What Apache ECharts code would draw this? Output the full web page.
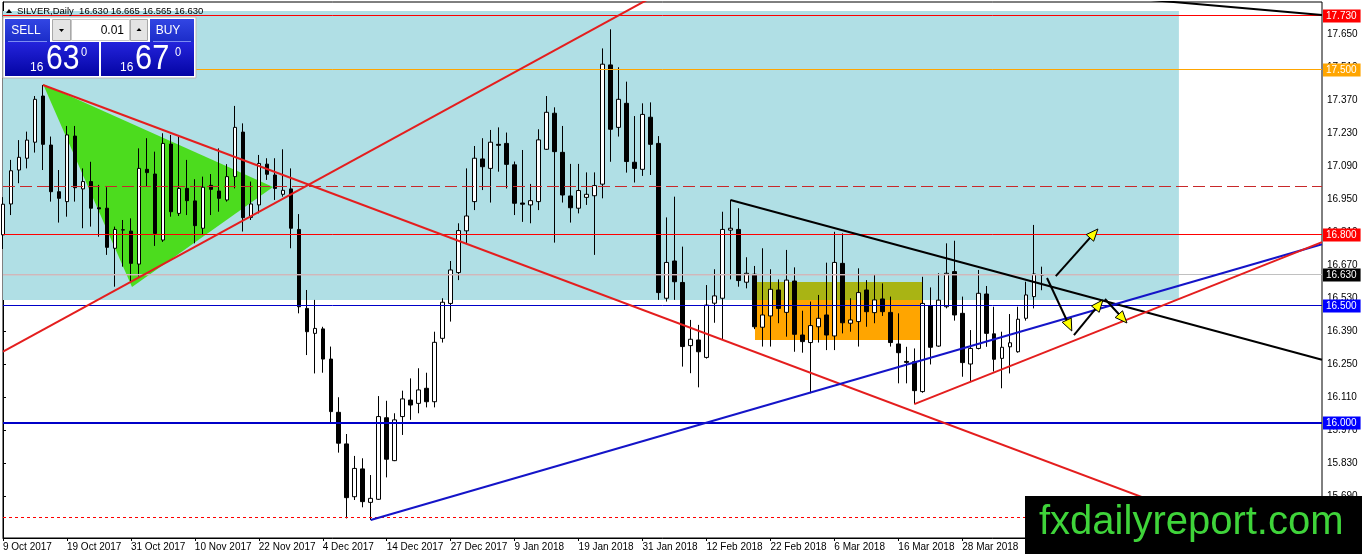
<!DOCTYPE html>
<html>
<head>
<meta charset="utf-8">
<script src="https://cdn.jsdelivr.net/npm/echarts@6/dist/echarts.min.js"></script>
<style>html,body{margin:0;padding:0;background:#fff;}#c{width:1362px;height:554px;}</style>
</head>
<body>
<div id="c"></div>
<script>
// ---------------- DATA ----------------
const categories = [
'9 Oct 2017','10 Oct 2017','11 Oct 2017','12 Oct 2017','13 Oct 2017','16 Oct 2017','17 Oct 2017','18 Oct 2017','19 Oct 2017','20 Oct 2017','23 Oct 2017','24 Oct 2017','25 Oct 2017','26 Oct 2017','27 Oct 2017','30 Oct 2017','31 Oct 2017',
'1 Nov 2017','2 Nov 2017','3 Nov 2017','6 Nov 2017','7 Nov 2017','8 Nov 2017','9 Nov 2017','10 Nov 2017','13 Nov 2017','14 Nov 2017','15 Nov 2017','16 Nov 2017','17 Nov 2017','20 Nov 2017','21 Nov 2017','22 Nov 2017','23 Nov 2017','24 Nov 2017','27 Nov 2017','28 Nov 2017','29 Nov 2017','30 Nov 2017',
'1 Dec 2017','4 Dec 2017','5 Dec 2017','6 Dec 2017','7 Dec 2017','8 Dec 2017','11 Dec 2017','12 Dec 2017','13 Dec 2017','14 Dec 2017','15 Dec 2017','18 Dec 2017','19 Dec 2017','20 Dec 2017','21 Dec 2017','22 Dec 2017','26 Dec 2017','27 Dec 2017','28 Dec 2017','29 Dec 2017',
'2 Jan 2018','3 Jan 2018','4 Jan 2018','5 Jan 2018','8 Jan 2018','9 Jan 2018','10 Jan 2018','11 Jan 2018','12 Jan 2018','15 Jan 2018','16 Jan 2018','17 Jan 2018','18 Jan 2018','19 Jan 2018','22 Jan 2018','23 Jan 2018','24 Jan 2018','25 Jan 2018','26 Jan 2018','29 Jan 2018','30 Jan 2018','31 Jan 2018',
'1 Feb 2018','2 Feb 2018','5 Feb 2018','6 Feb 2018','7 Feb 2018','8 Feb 2018','9 Feb 2018','12 Feb 2018','13 Feb 2018','14 Feb 2018','15 Feb 2018','16 Feb 2018','19 Feb 2018','20 Feb 2018','21 Feb 2018','22 Feb 2018','23 Feb 2018','26 Feb 2018','27 Feb 2018','28 Feb 2018',
'1 Mar 2018','2 Mar 2018','5 Mar 2018','6 Mar 2018','7 Mar 2018','8 Mar 2018','9 Mar 2018','12 Mar 2018','13 Mar 2018','14 Mar 2018','15 Mar 2018','16 Mar 2018','19 Mar 2018','20 Mar 2018','21 Mar 2018','22 Mar 2018','23 Mar 2018','26 Mar 2018','27 Mar 2018','28 Mar 2018','29 Mar 2018','30 Mar 2018',
'2 Apr 2018','3 Apr 2018','4 Apr 2018','5 Apr 2018','6 Apr 2018','9 Apr 2018','10 Apr 2018','11 Apr 2018'
];

const openP = [
16.800,16.931,17.075,17.125,17.193,17.389,17.181,16.983,16.941,17.219,
16.995,17.026,16.915,16.913,16.743,16.820,16.816,16.676,17.078,17.058,
16.778,17.185,16.891,16.997,16.944,16.828,17.010,16.986,16.948,17.047,
17.236,16.874,16.927,17.100,17.054,16.972,16.995,16.823,16.488,16.382,
16.401,16.273,16.047,15.913,15.689,15.807,15.665,15.678,16.024,15.842,
16.029,16.099,16.085,16.149,16.092,16.361,16.509,16.640,16.817,16.941,
17.122,17.082,17.184,17.188,17.097,16.935,16.927,16.941,17.163,17.316,
17.150,16.965,16.913,16.959,16.966,17.015,17.521,17.256,17.358,17.108,
17.078,17.299,17.188,16.531,16.689,16.598,16.330,16.354,16.280,16.510,
16.531,16.820,16.823,16.599,16.633,16.408,16.456,16.566,16.471,16.604,
16.375,16.343,16.410,16.460,16.371,16.679,16.425,16.432,16.566,16.470,
16.528,16.471,16.337,16.263,16.262,16.135,16.498,16.328,16.495,16.644,
16.467,16.252,16.318,16.549,16.380,16.276,16.325,16.304,16.446,16.538,
16.630
];
const highP = [
16.960,17.118,17.202,17.238,17.389,17.436,17.217,17.075,17.262,17.262,
17.082,17.110,17.012,17.002,16.835,16.863,16.870,17.167,17.210,17.153,
17.231,17.224,17.217,17.118,17.036,17.047,17.058,17.167,17.100,17.347,
17.273,17.026,17.139,17.125,17.125,17.163,17.082,16.888,16.566,16.524,
16.410,16.326,16.111,15.955,15.862,15.852,15.781,16.116,16.096,16.043,
16.139,16.191,16.234,16.215,16.389,16.531,16.689,16.849,17.082,17.177,
17.210,17.245,17.256,17.234,17.111,17.160,17.016,17.248,17.389,17.341,
17.262,17.101,17.101,17.065,17.065,17.591,17.672,17.511,17.450,17.304,
17.358,17.362,17.219,16.874,16.962,16.750,16.439,16.418,16.587,16.654,
16.898,16.948,16.913,16.705,16.668,16.743,16.654,16.611,16.736,16.662,
16.478,16.517,16.545,16.682,16.813,16.806,16.531,16.658,16.608,16.634,
16.594,16.538,16.467,16.325,16.318,16.622,16.577,16.637,16.764,16.775,
16.538,16.396,16.651,16.583,16.495,16.389,16.464,16.495,16.601,16.842,
16.665
];
const lowP = [
16.740,16.884,17.019,17.082,17.149,17.075,16.941,16.852,16.877,16.941,
16.828,16.835,16.792,16.715,16.580,16.665,16.601,16.623,17.007,16.753,
16.770,16.877,16.880,16.884,16.764,16.799,16.884,16.898,16.941,16.997,
16.814,16.863,16.891,17.033,16.948,16.962,16.743,16.467,16.290,16.212,
16.215,16.000,15.876,15.597,15.675,15.644,15.590,15.675,15.771,15.840,
15.951,16.015,16.043,16.068,16.068,16.343,16.432,16.608,16.764,16.905,
16.990,16.937,17.068,16.997,16.884,16.855,16.849,16.905,17.160,16.767,
16.937,16.852,16.891,16.927,16.715,16.955,17.110,17.217,17.064,17.022,
17.050,17.054,16.524,16.517,16.524,16.241,16.213,16.153,16.275,16.427,
16.354,16.611,16.580,16.573,16.400,16.326,16.326,16.425,16.368,16.304,
16.300,16.128,16.343,16.311,16.311,16.382,16.389,16.326,16.410,16.425,
16.456,16.326,16.170,16.170,16.082,16.130,16.250,16.325,16.488,16.436,
16.198,16.177,16.314,16.325,16.220,16.149,16.212,16.300,16.436,16.488,
16.565
];
const closeP = [
16.930,17.072,17.129,17.202,17.375,17.184,16.983,16.955,17.224,17.000,
17.026,16.913,16.910,16.747,16.823,16.822,16.679,17.082,17.064,16.806,
17.188,16.898,16.997,16.945,16.839,17.002,16.993,16.955,17.047,17.256,
16.873,16.931,17.103,17.057,16.997,16.989,16.828,16.495,16.389,16.403,
16.273,16.050,15.916,15.685,15.809,15.668,15.682,16.029,15.848,16.015,
16.104,16.078,16.142,16.092,16.344,16.514,16.651,16.818,16.880,17.125,
17.089,17.193,17.180,17.099,16.934,16.930,16.945,17.203,17.320,17.153,
16.969,16.915,16.988,16.972,17.009,17.524,17.248,17.375,17.111,17.082,
17.311,17.184,16.555,16.683,16.601,16.326,16.357,16.304,16.502,16.541,
16.823,16.828,16.606,16.637,16.410,16.460,16.569,16.488,16.608,16.378,
16.347,16.415,16.446,16.375,16.683,16.427,16.439,16.555,16.474,16.524,
16.474,16.343,16.300,16.259,16.139,16.509,16.323,16.523,16.637,16.460,
16.258,16.318,16.552,16.382,16.272,16.323,16.342,16.442,16.545,16.634,
16.630
];

const yTickValues = [15.69,15.83,15.97,16.11,16.25,16.39,16.53,16.67,16.81,16.95,17.09,17.23,17.37,17.51,17.65];
const futureSlots = 35;         // empty chart-shift area on the right
const labelStep = 8;            // a date label every 8 bars

// horizontal levels and their price tags
const levelValues = [17.730, 17.500, 17.003, 16.800, 16.630, 16.500, 16.000, 15.600];
const levelTags   = ['17.730', '17.500', '', '16.800', '16.630', '16.500', '16.000', ''];

// trend lines: [barIndex, price]
const trendRedRising  = [[0, 16.305], [85, 17.879]];
const trendRedFalling = [[5, 17.436], [165, 15.401]];
const trendBlackFall  = [[91, 16.948], [165, 16.270]];
const trendBlackTop   = [[140, 17.807], [165, 17.733]];
const trendBlueRising = [[46, 15.590], [165, 16.760]];
const trendRedLower   = [[114, 16.082], [165, 16.769]];
const bidSegment      = [[0, 16.630], [147.1, 16.630]];

// zones: [x0, price0, x1, price1]
const zoneBlue   = [0, 17.750, 147.1, 16.524];
const zoneOrange = [94.07, 16.600, 115.08, 16.354];
const zoneOlive  = [94.07, 16.600, 115.08, 16.524];
const greenTriangle = [[5, 17.440], [16.14, 16.579], [33.78, 17.003]];

// arrows: [x0, price0, x1, price1]
const arrowSegs = [
  [131.7, 16.625, 136.97, 16.825],
  [130.6, 16.617, 133.7, 16.392],
  [133.97, 16.375, 137.6, 16.524],
  [137.85, 16.528, 140.6, 16.426]
];

// ---------------- BUILD ----------------
const xCats = categories.concat(Array.from({length: futureSlots}, (_, k) => 'f' + k));
const lastX = xCats.length - 1;
const candleData = openP.map((o, i) => [o, closeP[i], lowP[i], highP[i]]);
const yMin = 15.5138, yMax = 17.7879;
const FONT = '"Liberation Sans", Arial, sans-serif';

const showLbl = (idx) => idx % labelStep === 0 && idx < categories.length - 8;

const levelStyles = [
  {color: '#ff0000', width: 1, dash: null, tag: '#ff0000'},
  {color: '#ffa500', width: 1, dash: null, tag: '#ffa500'},
  {color: '#c8282a', width: 1, dash: [12, 5], tag: null},
  {color: '#ff0000', width: 1, dash: null, tag: '#ff0000'},
  {color: '#c0c0c0', width: 1, dash: null, tag: '#000000'},
  {color: '#0000c8', width: 1, dash: null, tag: '#0000ff'},
  {color: '#0000c8', width: 2, dash: null, tag: '#0000ff'},
  {color: '#ff0000', width: 1, dash: [3, 3], tag: null}
];

const zonesData = [zoneBlue, zoneOrange, zoneOlive];
const zoneFills = ['#b0dfe5', '#ffa500', '#a9b414'];

function trend(data, color, width, z) {
  return {
    type: 'line', xAxisIndex: 1, yAxisIndex: 0, data: data,
    symbol: 'none', showSymbol: false, clip: true, silent: true, z: z || 4,
    color: color,
    lineStyle: {color: color, width: width}
  };
}

const blueGrad = (c0, c1) => new echarts.graphic.LinearGradient(0, 0, 0, 1, [{offset: 0, color: c0}, {offset: 1, color: c1}]);

const chart = echarts.init(document.getElementById('c'), null, {renderer: 'canvas'});
const option = {
  animation: false,
  backgroundColor: '#ffffff',
  grid: {left: 3, right: 40, top: 2, bottom: 16, show: true, borderColor: '#000', borderWidth: 1, backgroundColor: '#ffffff'},
  xAxis: [
    {
      type: 'category', data: xCats, boundaryGap: false, position: 'bottom',
      axisLine: {show: true, lineStyle: {color: '#000', width: 1}},
      axisTick: {show: true, interval: showLbl, length: 3, lineStyle: {color: '#000'}},
      axisLabel: {interval: showLbl, align: 'left', margin: 4, fontSize: 10, fontFamily: FONT, color: '#000'},
      splitLine: {show: false}
    },
    {type: 'value', min: 0, max: lastX, show: false}
  ],
  yAxis: [{
    type: 'value', position: 'right', min: yMin, max: yMax, scale: true,
    axisLine: {show: true, lineStyle: {color: '#000', width: 1}},
    axisTick: {show: true, length: 3, customValues: yTickValues, lineStyle: {color: '#000'}},
    axisLabel: {customValues: yTickValues, formatter: (v) => v.toFixed(3), margin: 5, fontSize: 10, fontFamily: FONT, color: '#000'},
    splitLine: {show: false}
  }],
  series: [
    {
      type: 'custom', name: 'zones', xAxisIndex: 1, yAxisIndex: 0, z: 1, silent: true,
      data: zonesData,
      renderItem: (params, api) => {
        const p0 = api.coord([api.value(0), api.value(1)]);
        const p1 = api.coord([api.value(2), api.value(3)]);
        return {
          type: 'rect',
          shape: {x: Math.min(p0[0], p1[0]), y: Math.min(p0[1], p1[1]), width: Math.abs(p1[0] - p0[0]), height: Math.abs(p1[1] - p0[1])},
          style: {fill: zoneFills[params.dataIndex]}
        };
      }
    },
    {
      type: 'custom', name: 'triangle', xAxisIndex: 1, yAxisIndex: 0, z: 1, silent: true,
      data: [[0, 0]],
      renderItem: (params, api) => ({
        type: 'polygon',
        shape: {points: greenTriangle.map(p => api.coord(p))},
        style: {fill: '#4cdc1e'}
      })
    },
    {
      type: 'candlestick', xAxisIndex: 0, yAxisIndex: 0, data: candleData, z: 2,
      barWidth: 4, clip: true, silent: true,
      itemStyle: {color: '#ffffff', color0: '#000000', borderColor: '#000000', borderColor0: '#000000', borderColorDoji: '#000000', borderWidth: 1}
    },
    {
      type: 'custom', name: 'levels', xAxisIndex: 1, yAxisIndex: 0, z: 3, silent: true,
      data: levelValues.map((v, i) => [i, v]),
      renderItem: (params, api) => {
        const i = params.dataIndex;
        const s = levelStyles[i];
        const cs = params.coordSys;
        const yRaw = api.coord([0, api.value(1)])[1];
        const y = s.width % 2 === 1 ? Math.round(yRaw - 0.5) + 0.5 : Math.round(yRaw);
        const children = [{
          type: 'line',
          shape: {x1: cs.x, y1: y, x2: cs.x + cs.width, y2: y},
          style: {stroke: s.color, lineWidth: s.width, lineDash: s.dash || null}
        }];
        if (s.tag) {
          children.push({
            type: 'text', z2: 50,
            x: cs.x + cs.width + 1, y: Math.round(yRaw),
            style: {
              text: levelTags[i], fill: '#fff', font: '10px ' + FONT,
              backgroundColor: s.tag, padding: [2, 4, 1, 3],
              align: 'left', verticalAlign: 'middle'
            }
          });
        }
        return {type: 'group', children: children};
      }
    },
    trend(bidSegment, '#dcb2b6', 1, 3),
    trend(trendRedRising, '#e41e1e', 2),
    trend(trendRedFalling, '#e41e1e', 2),
    trend(trendBlackFall, '#000000', 2),
    trend(trendBlackTop, '#000000', 2),
    trend(trendBlueRising, '#1414c8', 2),
    trend(trendRedLower, '#e41e1e', 2),
    {
      type: 'custom', name: 'arrows', xAxisIndex: 1, yAxisIndex: 0, z: 5, silent: true,
      data: arrowSegs,
      renderItem: (params, api) => {
        const a = api.coord([api.value(0), api.value(1)]);
        const b = api.coord([api.value(2), api.value(3)]);
        const dx = b[0] - a[0], dy = b[1] - a[1];
        const len = Math.hypot(dx, dy) || 1;
        const ux = dx / len, uy = dy / len;
        const L = 12, W = 5;
        const bx = b[0] - ux * L, by = b[1] - uy * L;
        return {
          type: 'group',
          children: [
            {type: 'line', shape: {x1: a[0], y1: a[1], x2: b[0] - ux * 3, y2: b[1] - uy * 3}, style: {stroke: '#000', lineWidth: 2}},
            {type: 'polygon', shape: {points: [[b[0], b[1]], [bx - uy * W, by + ux * W], [bx + uy * W, by - ux * W]]},
             style: {fill: '#ffff00', stroke: '#000', lineWidth: 1}}
          ]
        };
      }
    }
  ],
  graphic: [
    // header
    {type: 'polygon', z: 100, shape: {points: [[6, 13], [12, 13], [9, 9]]}, style: {fill: '#000'}},
    {type: 'text', z: 100, x: 17, y: 11, style: {text: 'SILVER,Daily  16.630 16.665 16.565 16.630', fill: '#000', font: '9.5px ' + FONT, verticalAlign: 'middle'}},
    // trade panel
    {type: 'rect', z: 100, shape: {x: 3, y: 17, width: 193, height: 61}, style: {fill: '#ffffff', stroke: '#b8b8b8', lineWidth: 1}},
    {type: 'rect', z: 101, shape: {x: 5, y: 19, width: 45, height: 23}, style: {fill: blueGrad('#3246e4', '#1b2cc8')}},
    {type: 'line', z: 102, shape: {x1: 8, y1: 41.5, x2: 47, y2: 41.5}, style: {stroke: '#7c8cf2', lineWidth: 1}},
    {type: 'text', z: 102, x: 26, y: 31, style: {text: 'SELL', fill: '#fff', font: '12px ' + FONT, align: 'center', verticalAlign: 'middle'}},
    {type: 'rect', z: 101, shape: {x: 52.5, y: 19.5, width: 18, height: 21}, style: {fill: '#e4e4e4', stroke: '#a8a8a8', lineWidth: 1}},
    {type: 'polygon', z: 102, shape: {points: [[59, 29], [64, 29], [61.5, 32]]}, style: {fill: '#000'}},
    {type: 'rect', z: 101, shape: {x: 71.5, y: 19.5, width: 58, height: 21}, style: {fill: '#ffffff', stroke: '#c8c8c8', lineWidth: 1}},
    {type: 'text', z: 102, x: 124, y: 31, style: {text: '0.01', fill: '#000', font: '12px ' + FONT, align: 'right', verticalAlign: 'middle'}},
    {type: 'rect', z: 101, shape: {x: 130.5, y: 19.5, width: 17, height: 21}, style: {fill: '#e4e4e4', stroke: '#a8a8a8', lineWidth: 1}},
    {type: 'polygon', z: 102, shape: {points: [[136.5, 31], [141.5, 31], [139, 28]]}, style: {fill: '#000'}},
    {type: 'rect', z: 101, shape: {x: 150, y: 19, width: 44, height: 23}, style: {fill: blueGrad('#3246e4', '#1b2cc8')}},
    {type: 'line', z: 102, shape: {x1: 153, y1: 41.5, x2: 191, y2: 41.5}, style: {stroke: '#7c8cf2', lineWidth: 1}},
    {type: 'text', z: 102, x: 168, y: 31, style: {text: 'BUY', fill: '#fff', font: '12px ' + FONT, align: 'center', verticalAlign: 'middle'}},
    {type: 'rect', z: 101, shape: {x: 5, y: 42, width: 94, height: 34}, style: {fill: blueGrad('#2424dc', '#0404a4')}},
    {type: 'rect', z: 101, shape: {x: 101, y: 42, width: 93, height: 34}, style: {fill: blueGrad('#2424dc', '#0404a4')}},
    {type: 'text', z: 102, x: 30, y: 68, style: {text: '16', fill: '#fff', font: '12px ' + FONT, verticalAlign: 'middle'}},
    {type: 'text', z: 102, x: 46, y: 59.5, scaleX: 0.86, style: {text: '63', fill: '#fff', font: '35px ' + FONT, verticalAlign: 'middle'}},
    {type: 'text', z: 102, x: 81, y: 52, scaleX: 0.85, style: {text: '0', fill: '#fff', font: '13px ' + FONT, verticalAlign: 'middle'}},
    {type: 'text', z: 102, x: 120, y: 68, style: {text: '16', fill: '#fff', font: '12px ' + FONT, verticalAlign: 'middle'}},
    {type: 'text', z: 102, x: 135, y: 59.5, scaleX: 0.88, style: {text: '67', fill: '#fff', font: '35px ' + FONT, verticalAlign: 'middle'}},
    {type: 'text', z: 102, x: 175, y: 52, scaleX: 0.85, style: {text: '0', fill: '#fff', font: '13px ' + FONT, verticalAlign: 'middle'}},
    // logo
    {type: 'rect', z: 110, shape: {x: 1025, y: 496, width: 337, height: 58}, style: {fill: '#000'}},
    {type: 'text', z: 111, x: 1039, y: 523, style: {text: 'fxdailyreport.com', fill: '#3fd43a', font: '40px ' + FONT, verticalAlign: 'middle'}}
  ]
};
chart.setOption(option);
</script>
</body>
</html>
